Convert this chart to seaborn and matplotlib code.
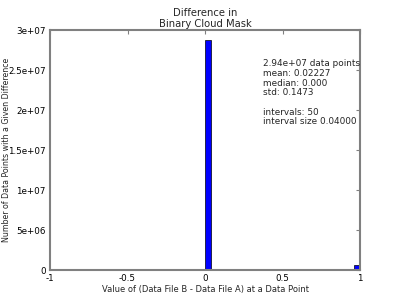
import matplotlib
matplotlib.use("Agg")
import matplotlib.pyplot as plt
import seaborn as sns
import numpy as np
from matplotlib.ticker import FuncFormatter

bin_centers = [0.02, 0.98]
counts = [2.8745e7, 6.55e5]
n_bins = 50
x_range = (-1, 1)
stats_text = "2.94e+07 data points\nmean: 0.02227\nmedian: 0.000\nstd: 0.1473\n\nintervals: 50\ninterval size 0.04000"

sns.set_style("white")
plt.rcParams['font.family'] = ['DejaVu Sans']

fig = plt.figure(figsize=(4, 3), dpi=100)
ax = fig.add_axes([0.125, 0.1, 0.775, 0.8])
sns.histplot(x=bin_centers, weights=counts, bins=n_bins, binrange=x_range,
             color="#0000ff", edgecolor="black", linewidth=0.5, alpha=1, ax=ax)
ax.set_xlim(-1, 1)
ax.set_ylim(0, 3e7)
ax.set_xticks([-1, -0.5, 0, 0.5, 1])
ax.set_yticks([0, 5e6, 1e7, 1.5e7, 2e7, 2.5e7, 3e7])
fmt = FuncFormatter(lambda v, p: f"{v:g}")
ax.xaxis.set_major_formatter(fmt)
ax.yaxis.set_major_formatter(fmt)
ax.tick_params(direction="in", length=3, width=0.8, colors="#808080",
               labelcolor="black", labelsize=6.3, top=True, right=True)
ax.tick_params(axis="x", pad=3)
ax.tick_params(axis="y", pad=3)
for s in ax.spines.values():
    s.set_color("#808080")
    s.set_linewidth(1.5)
ax.set_xlabel("Value of (Data File B - Data File A) at a Data Point", fontsize=6, labelpad=1)
ax.set_ylabel("Number of Data Points with a Given Difference", fontsize=5.7)
ax.yaxis.set_label_coords(-0.125, 0.5)
ax.set_title("Difference in\nBinary Cloud Mask", fontsize=7.2, pad=2, linespacing=1.1)
ax.text(0.688, 0.878, stats_text, transform=ax.transAxes, fontsize=6.4,
        va="top", ha="left", linespacing=1.1)
fig.savefig("out.png", dpi=100)
